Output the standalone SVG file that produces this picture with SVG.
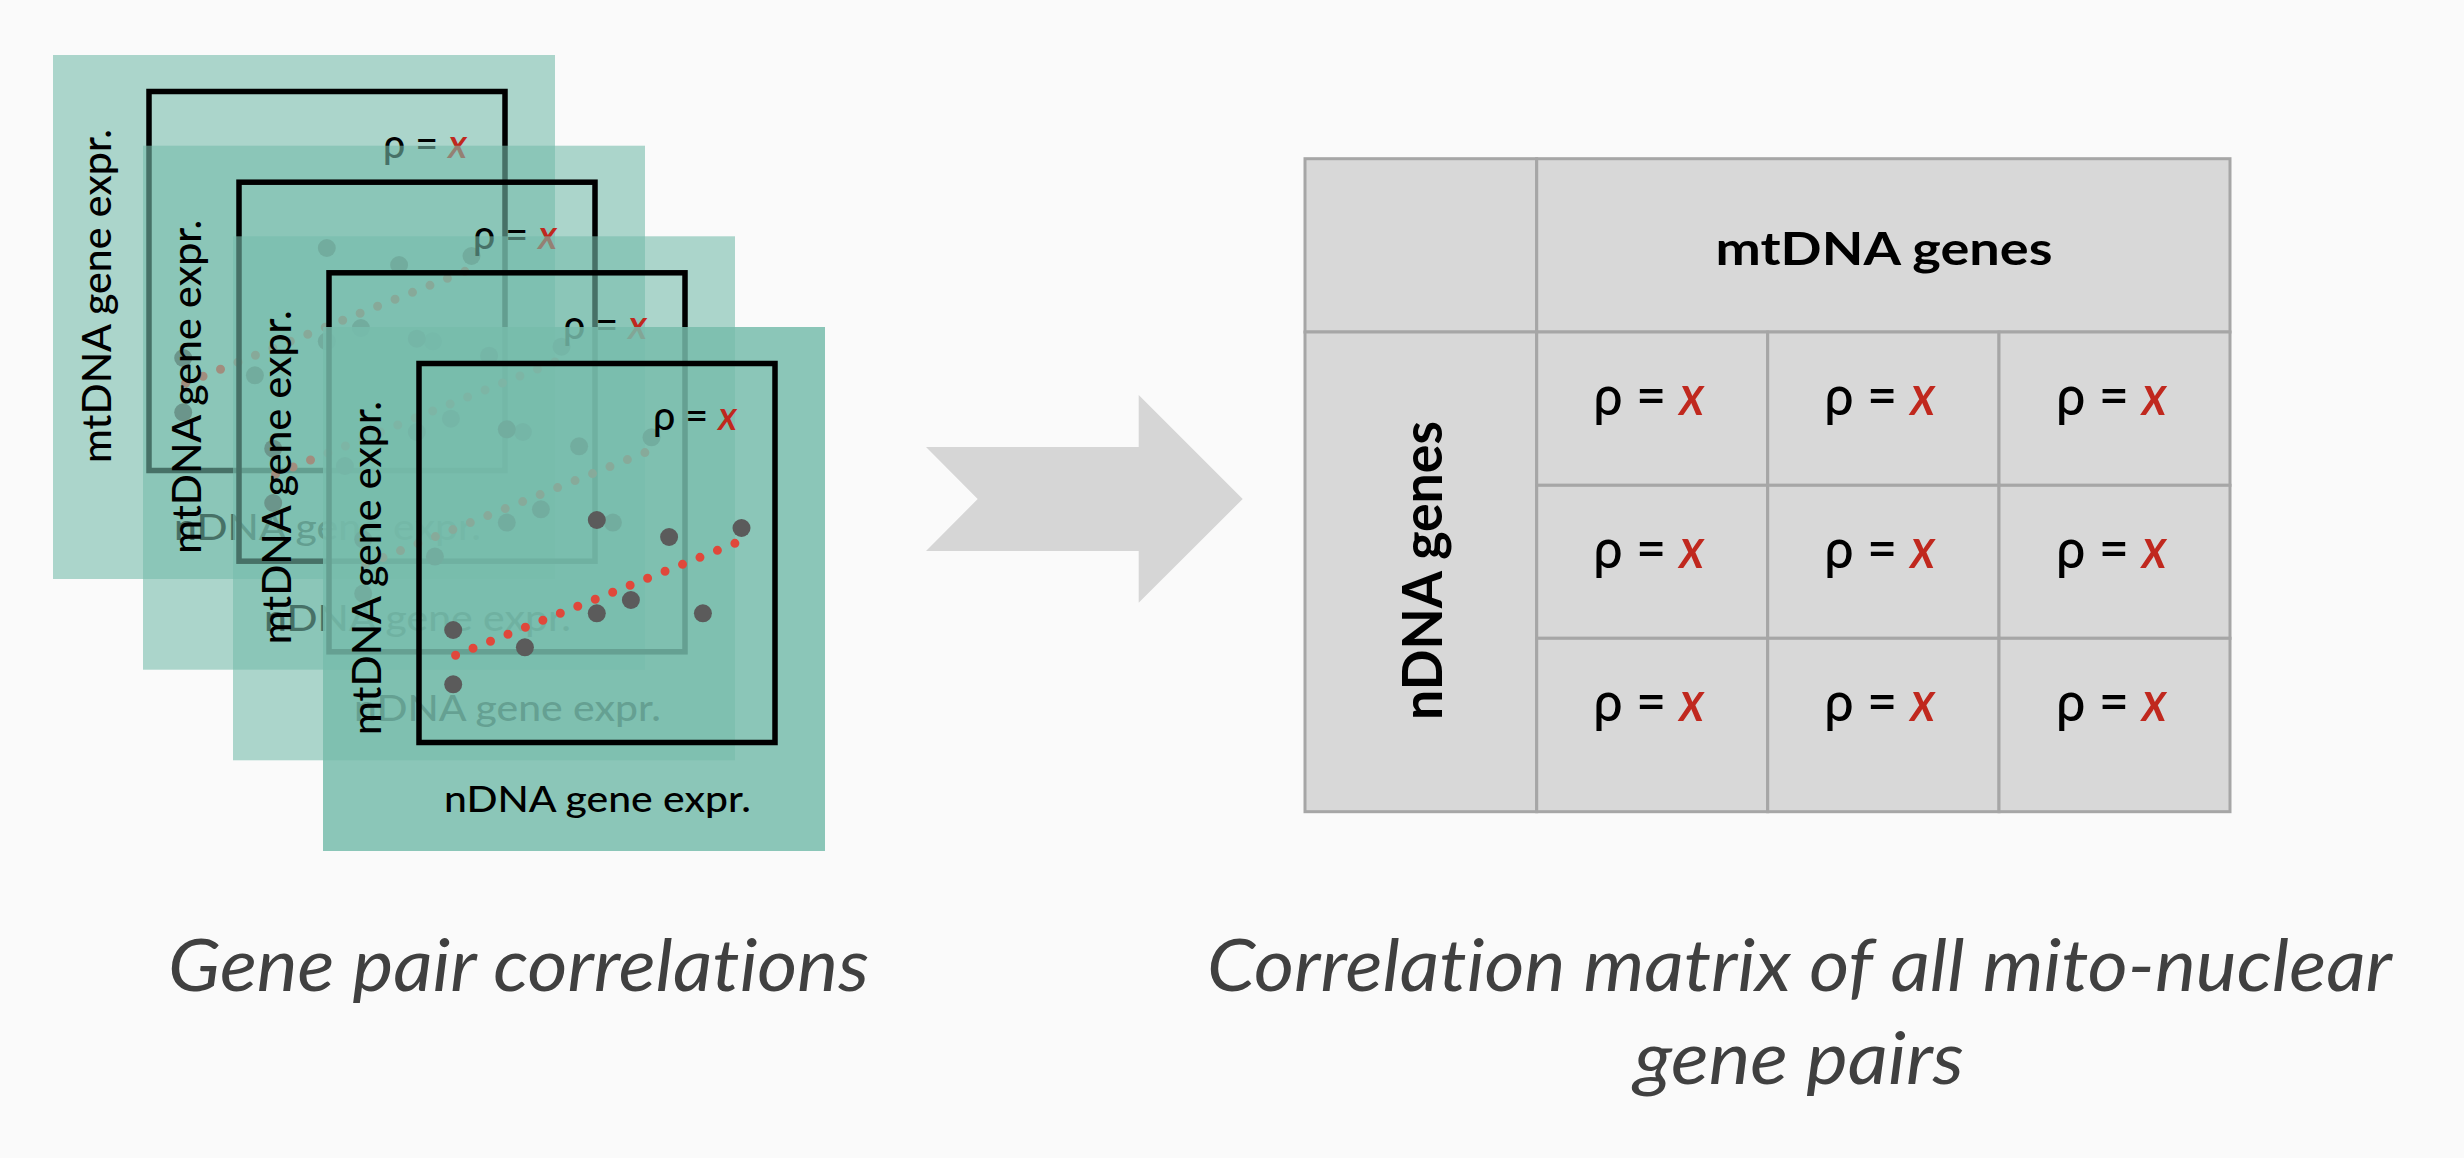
<svg xmlns="http://www.w3.org/2000/svg" xmlns:xlink="http://www.w3.org/1999/xlink" width="2464" height="1158" viewBox="0 0 2464 1158">
<style>
text{font-variant-ligatures:none;font-feature-settings:"liga" 0,"clig" 0}
.bg{fill:#fafafa}
.panel{fill:#77bcac;fill-opacity:0.6}
.panel.front{fill-opacity:0.85}
.frame{fill:none;stroke:#000;stroke-width:5.5}
.lbl{font-family:Lato,"Open Sans","Liberation Sans",sans-serif;font-size:40px;font-weight:500;fill:#000}
.lblh{font-family:Lato,"Open Sans","Liberation Sans",sans-serif;font-size:36px;font-weight:500;fill:#000}
.rho{font-family:Lato,"Open Sans","Liberation Sans",sans-serif;font-size:40px;font-weight:500;fill:#000}
.xv{font-style:italic;font-weight:600;fill:#c0281e}
.dot{fill:#5b5b5b}
.fit{stroke:#e0483b;stroke-width:9;stroke-linecap:round;stroke-dasharray:0 18.806;fill:none}
.cell{fill:#d8d8d8;stroke:#a6a6a6;stroke-width:3}
.hdr{font-family:Lato,"Open Sans","Liberation Sans",sans-serif;font-weight:bold;fill:#000}
.mrho{font-family:Lato,"Open Sans","Liberation Sans",sans-serif;font-size:55px;font-weight:500;fill:#000}
.cap{font-family:Lato,"Open Sans","Liberation Sans",sans-serif;font-style:italic;font-size:72px;fill:#404040}
.arrow{fill:#d6d6d6}
</style>
<defs>
<g id="plot">
<rect class="frame" x="96" y="36.5" width="356" height="379"/>
<text class="rho" x="330" y="103" textLength="84" lengthAdjust="spacingAndGlyphs">ρ = <tspan class="xv">x</tspan></text>
<text class="lbl" transform="translate(57.5,241) rotate(-90)" text-anchor="middle" textLength="334" lengthAdjust="spacingAndGlyphs">mtDNA gene expr.</text>
<text class="lblh" x="121" y="485" textLength="307" lengthAdjust="spacingAndGlyphs">nDNA gene expr.</text>
<circle class="dot" cx="130.2" cy="303" r="9"/>
<circle class="dot" cx="130.2" cy="357.3" r="9"/>
<circle class="dot" cx="201.9" cy="320.3" r="9"/>
<circle class="dot" cx="273.8" cy="193" r="9"/>
<circle class="dot" cx="273.8" cy="286.3" r="9"/>
<circle class="dot" cx="307.9" cy="273" r="9"/>
<circle class="dot" cx="346.1" cy="210" r="9"/>
<circle class="dot" cx="379.9" cy="286.3" r="9"/>
<circle class="dot" cx="418.5" cy="201" r="9"/>
<line class="fit" x1="132.6" y1="328.3" x2="411.9" y2="216.3"/>
</g>
</defs>
<rect class="bg" x="0" y="0" width="2464" height="1158"/>

<g id="panel1" transform="translate(53,55)">
<rect class="panel" x="0" y="0" width="502" height="524"/>
<use xlink:href="#plot" href="#plot"/>
</g>
<g id="panel2" transform="translate(143,145.7)">
<rect class="panel" x="0" y="0" width="502" height="524"/>
<use xlink:href="#plot" href="#plot"/>
</g>
<g id="panel3" transform="translate(233,236.3)">
<rect class="panel" x="0" y="0" width="502" height="524"/>
<use xlink:href="#plot" href="#plot"/>
</g>
<g id="panel4" transform="translate(323,327)">
<rect class="panel front" x="0" y="0" width="502" height="524"/>
<use xlink:href="#plot" href="#plot"/>
</g>

<g id="connectors">
<polygon class="arrow" points="926,447 1138.7,447 1138.7,395 1242.7,499 1138.7,602.7 1138.7,551 926,551 977.7,499"/>
</g>

<g id="matrix">
<rect class="cell" x="1305" y="158.7" width="231.7" height="173.3"/>
<rect class="cell" x="1536.7" y="158.7" width="693.3" height="173.3"/>
<rect class="cell" x="1305" y="332" width="231.7" height="479.7"/>
<rect class="cell" x="1536.7" y="332" width="231" height="153.3"/>
<rect class="cell" x="1767.7" y="332" width="231.3" height="153.3"/>
<rect class="cell" x="1999" y="332" width="231" height="153.3"/>
<rect class="cell" x="1536.7" y="485.3" width="231" height="153"/>
<rect class="cell" x="1767.7" y="485.3" width="231.3" height="153"/>
<rect class="cell" x="1999" y="485.3" width="231" height="153"/>
<rect class="cell" x="1536.7" y="638.3" width="231" height="173.4"/>
<rect class="cell" x="1767.7" y="638.3" width="231.3" height="173.4"/>
<rect class="cell" x="1999" y="638.3" width="231" height="173.4"/>
<text class="hdr" x="1884" y="265" font-size="46" text-anchor="middle" textLength="337" lengthAdjust="spacingAndGlyphs">mtDNA genes</text>
<text class="hdr" font-size="55" transform="translate(1441.7,570.5) rotate(-90)" text-anchor="middle" textLength="299" lengthAdjust="spacingAndGlyphs">nDNA genes</text>
<text class="mrho" x="1593.3" y="415" textLength="111" lengthAdjust="spacingAndGlyphs">ρ = <tspan class="xv">x</tspan></text>
<text class="mrho" x="1824.3" y="415" textLength="111" lengthAdjust="spacingAndGlyphs">ρ = <tspan class="xv">x</tspan></text>
<text class="mrho" x="2056" y="415" textLength="111" lengthAdjust="spacingAndGlyphs">ρ = <tspan class="xv">x</tspan></text>
<text class="mrho" x="1593.3" y="568.3" textLength="111" lengthAdjust="spacingAndGlyphs">ρ = <tspan class="xv">x</tspan></text>
<text class="mrho" x="1824.3" y="568.3" textLength="111" lengthAdjust="spacingAndGlyphs">ρ = <tspan class="xv">x</tspan></text>
<text class="mrho" x="2056" y="568.3" textLength="111" lengthAdjust="spacingAndGlyphs">ρ = <tspan class="xv">x</tspan></text>
<text class="mrho" x="1593.3" y="720.7" textLength="111" lengthAdjust="spacingAndGlyphs">ρ = <tspan class="xv">x</tspan></text>
<text class="mrho" x="1824.3" y="720.7" textLength="111" lengthAdjust="spacingAndGlyphs">ρ = <tspan class="xv">x</tspan></text>
<text class="mrho" x="2056" y="720.7" textLength="111" lengthAdjust="spacingAndGlyphs">ρ = <tspan class="xv">x</tspan></text>
</g>

<g id="captions">
<text class="cap" x="168" y="990.5" textLength="701" lengthAdjust="spacingAndGlyphs">Gene pair correlations</text>
<text class="cap" x="1207" y="990.5" textLength="1185" lengthAdjust="spacingAndGlyphs">Correlation matrix of all mito-nuclear</text>
<text class="cap" x="1634" y="1084" textLength="330" lengthAdjust="spacingAndGlyphs">gene pairs</text>
</g>
</svg>
